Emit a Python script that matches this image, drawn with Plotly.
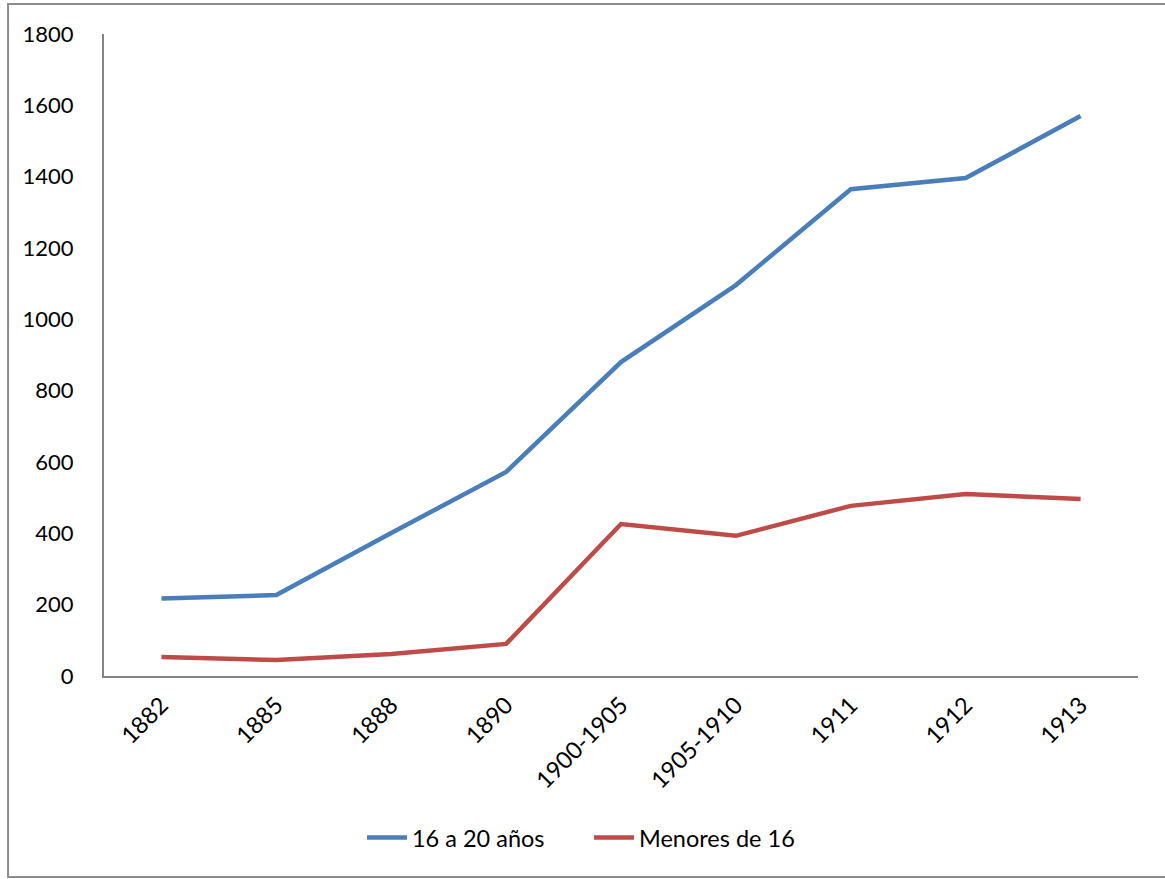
import plotly.graph_objects as go

categories = ["1882", "1885", "1888", "1890", "1900-1905", "1905-1910", "1911", "1912", "1913"]
serie_16_20 = [217, 227, 401, 572, 880, 1096, 1365, 1396, 1570]
serie_menores = [53, 45, 62, 90, 426, 393, 477, 510, 496]
y_ticks = [0, 200, 400, 600, 800, 1000, 1200, 1400, 1600, 1800]

FONT = "Lato, 'Open Sans', sans-serif"
xs = list(range(len(categories)))

fig = go.Figure()
fig.add_trace(go.Scatter(x=xs, y=serie_16_20, mode="lines", name="16 a 20 años",
                         line=dict(color="#4A7EBB", width=4.5)))
fig.add_trace(go.Scatter(x=xs, y=serie_menores, mode="lines", name="Menores de 16",
                         line=dict(color="#BE4B48", width=4.5)))

fig.update_layout(
    width=1165, height=879,
    margin=dict(l=104, r=27, t=34, b=203),
    paper_bgcolor="white", plot_bgcolor="white",
    font=dict(family=FONT, size=22, color="black"),
    showlegend=True,
    legend=dict(orientation="h", x=0.2495, xanchor="left", y=-0.252, yanchor="middle",
                font=dict(family=FONT, size=23.5, color="black"), itemwidth=40,
                entrywidth=172, bgcolor="rgba(0,0,0,0)"),
    xaxis=dict(range=[-0.5, len(categories) - 0.5], tickmode="array", tickvals=xs,
               ticktext=categories, tickangle=-45, showgrid=False, zeroline=False,
               showline=True, linecolor="#868686", linewidth=2, ticks="",
               tickfont=dict(family=FONT, size=23.5, color="black"),
               ticklabelstandoff=4, fixedrange=True),
    yaxis=dict(range=[0, 1800], tickmode="array", tickvals=y_ticks,
               ticktext=[str(v) for v in y_ticks], showgrid=False, zeroline=False,
               showline=True, linecolor="#868686", linewidth=2, ticks="",
               tickfont=dict(family=FONT, size=22, color="black"),
               ticklabelstandoff=24, fixedrange=True),
    shapes=[dict(type="rect", xref="paper", yref="paper",
                 x0=-0.0928, x1=1.06, y0=-0.3131, y1=1.0467,
                 line=dict(color="#8C8C8C", width=2), fillcolor="rgba(0,0,0,0)",
                 layer="below")],
)

fig.write_html("out.html")
